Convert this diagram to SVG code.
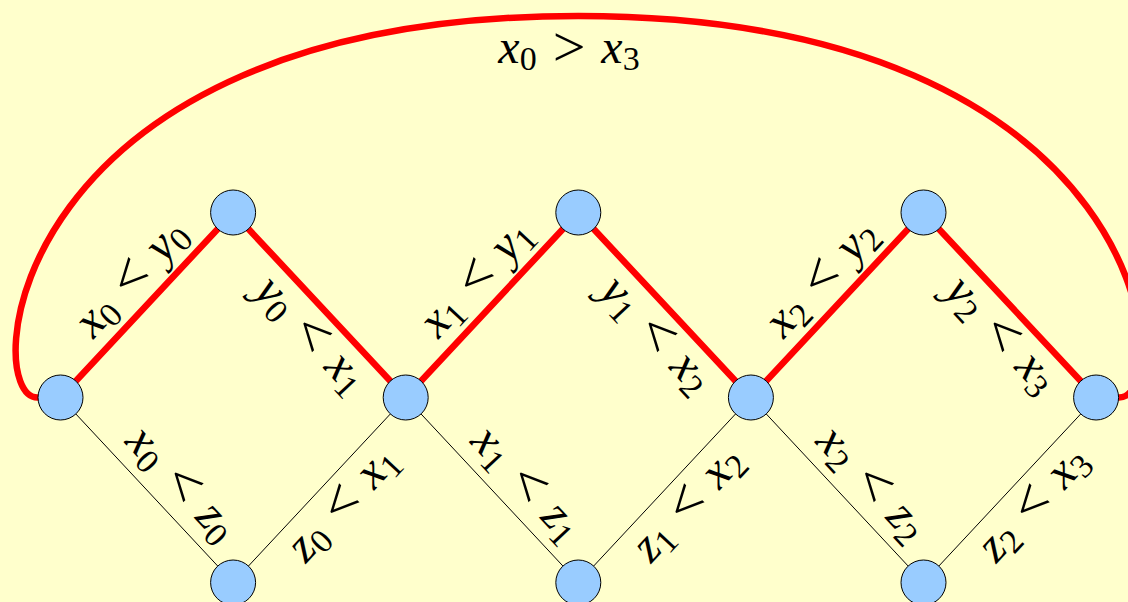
<svg xmlns="http://www.w3.org/2000/svg" width="1128" height="602" viewBox="0 0 1128 602">
<style>
.bg{fill:#ffffcc}
.nd{fill:#99ccff;stroke:#000;stroke-width:1}
.red{stroke:#ff0000;stroke-width:6.5;fill:none;stroke-linecap:round}
.thin{stroke:#000;stroke-width:1;fill:none}
#labels text, #labels tspan, text tspan.v, text tspan.s, text tspan.op{font-family:Liberation Serif,serif !important}
.lb{font-size:48px;text-anchor:middle;fill:#000}
.v{font-style:italic}
.s{font-size:34px}
.op{font-size:58px}
</style>
<rect class="bg" x="0" y="0" width="1128" height="602"/>
<g id="connectors">
  <line class="thin" x1="60.5" y1="397.5" x2="233.1" y2="582.5"/>
  <line class="thin" x1="233.1" y1="582.5" x2="405.7" y2="397.5"/>
  <line class="thin" x1="405.7" y1="397.5" x2="578.3" y2="582.5"/>
  <line class="thin" x1="578.3" y1="582.5" x2="750.9" y2="397.5"/>
  <line class="thin" x1="750.9" y1="397.5" x2="923.5" y2="582.5"/>
  <line class="thin" x1="923.5" y1="582.5" x2="1096.1" y2="397.5"/>
  <line class="red" x1="60.5" y1="397.5" x2="233.1" y2="212.5"/>
  <line class="red" x1="233.1" y1="212.5" x2="405.7" y2="397.5"/>
  <line class="red" x1="405.7" y1="397.5" x2="578.3" y2="212.5"/>
  <line class="red" x1="578.3" y1="212.5" x2="750.9" y2="397.5"/>
  <line class="red" x1="750.9" y1="397.5" x2="923.5" y2="212.5"/>
  <line class="red" x1="923.5" y1="212.5" x2="1096.1" y2="397.5"/>
  <path class="red" d="M 37.5 397.5 C -21.3 397.5 2 16 578.3 16 C 1154.6 16 1177.9 397.5 1119.1 397.5"/>
</g>
<g id="labels" font-family="Liberation Serif">
  <text class="lb" font-family="Liberation Serif" x="569" y="63"><tspan class="v" font-family="Liberation Serif">x</tspan><tspan class="s" font-family="Liberation Serif" dy="7">0</tspan><tspan class="op" font-family="Liberation Serif" dx="16" dy="-4.5">&gt;</tspan><tspan class="v" font-family="Liberation Serif" dx="16" dy="-2.5">x</tspan><tspan class="s" font-family="Liberation Serif" dy="7">3</tspan></text>

  <g transform="translate(146.8 305) rotate(-47)"><text class="lb" x="9" y="-15.5"><tspan class="v">x</tspan><tspan class="s" dy="7">0</tspan><tspan class="op" dx="16" dy="-4.5">&lt;</tspan><tspan class="v" dx="16" dy="-2.5">y</tspan><tspan class="s" dy="7">0</tspan></text></g>
  <g transform="translate(319.4 305) rotate(47)"><text class="lb" x="16" y="40.5"><tspan class="v">y</tspan><tspan class="s" dy="7">0</tspan><tspan class="op" dx="16" dy="-4.5">&lt;</tspan><tspan class="v" dx="16" dy="-2.5">x</tspan><tspan class="s" dy="7">1</tspan></text></g>
  <g transform="translate(146.8 490) rotate(47)"><text class="lb" x="19" y="-15.5"><tspan class="v">x</tspan><tspan class="s" dy="7">0</tspan><tspan class="op" dx="16" dy="-4.5">&lt;</tspan><tspan class="v" dx="16" dy="-2.5">z</tspan><tspan class="s" dy="7">0</tspan></text></g>
  <g transform="translate(319.4 490) rotate(-47)"><text class="lb" x="6" y="40.5"><tspan class="v">z</tspan><tspan class="s" dy="7">0</tspan><tspan class="op" dx="16" dy="-4.5">&lt;</tspan><tspan class="v" dx="16" dy="-2.5">x</tspan><tspan class="s" dy="7">1</tspan></text></g>

  <g transform="translate(492 305) rotate(-47)"><text class="lb" x="9" y="-15.5"><tspan class="v">x</tspan><tspan class="s" dy="7">1</tspan><tspan class="op" dx="16" dy="-4.5">&lt;</tspan><tspan class="v" dx="16" dy="-2.5">y</tspan><tspan class="s" dy="7">1</tspan></text></g>
  <g transform="translate(664.6 305) rotate(47)"><text class="lb" x="16" y="40.5"><tspan class="v">y</tspan><tspan class="s" dy="7">1</tspan><tspan class="op" dx="16" dy="-4.5">&lt;</tspan><tspan class="v" dx="16" dy="-2.5">x</tspan><tspan class="s" dy="7">2</tspan></text></g>
  <g transform="translate(492 490) rotate(47)"><text class="lb" x="19" y="-15.5"><tspan class="v">x</tspan><tspan class="s" dy="7">1</tspan><tspan class="op" dx="16" dy="-4.5">&lt;</tspan><tspan class="v" dx="16" dy="-2.5">z</tspan><tspan class="s" dy="7">1</tspan></text></g>
  <g transform="translate(664.6 490) rotate(-47)"><text class="lb" x="6" y="40.5"><tspan class="v">z</tspan><tspan class="s" dy="7">1</tspan><tspan class="op" dx="16" dy="-4.5">&lt;</tspan><tspan class="v" dx="16" dy="-2.5">x</tspan><tspan class="s" dy="7">2</tspan></text></g>

  <g transform="translate(837.2 305) rotate(-47)"><text class="lb" x="9" y="-15.5"><tspan class="v">x</tspan><tspan class="s" dy="7">2</tspan><tspan class="op" dx="16" dy="-4.5">&lt;</tspan><tspan class="v" dx="16" dy="-2.5">y</tspan><tspan class="s" dy="7">2</tspan></text></g>
  <g transform="translate(1009.8 305) rotate(47)"><text class="lb" x="16" y="40.5"><tspan class="v">y</tspan><tspan class="s" dy="7">2</tspan><tspan class="op" dx="16" dy="-4.5">&lt;</tspan><tspan class="v" dx="16" dy="-2.5">x</tspan><tspan class="s" dy="7">3</tspan></text></g>
  <g transform="translate(837.2 490) rotate(47)"><text class="lb" x="19" y="-15.5"><tspan class="v">x</tspan><tspan class="s" dy="7">2</tspan><tspan class="op" dx="16" dy="-4.5">&lt;</tspan><tspan class="v" dx="16" dy="-2.5">z</tspan><tspan class="s" dy="7">2</tspan></text></g>
  <g transform="translate(1009.8 490) rotate(-47)"><text class="lb" x="6" y="40.5"><tspan class="v">z</tspan><tspan class="s" dy="7">2</tspan><tspan class="op" dx="16" dy="-4.5">&lt;</tspan><tspan class="v" dx="16" dy="-2.5">x</tspan><tspan class="s" dy="7">3</tspan></text></g>
</g>
<g id="m0"><circle class="nd" cx="60.5" cy="397.5" r="22.5"/></g>
<g id="t0"><circle class="nd" cx="233.1" cy="212.5" r="22.5"/></g>
<g id="b0"><circle class="nd" cx="233.1" cy="582.5" r="22.5"/></g>
<g id="m1"><circle class="nd" cx="405.7" cy="397.5" r="22.5"/></g>
<g id="t1"><circle class="nd" cx="578.3" cy="212.5" r="22.5"/></g>
<g id="b1"><circle class="nd" cx="578.3" cy="582.5" r="22.5"/></g>
<g id="m2"><circle class="nd" cx="750.9" cy="397.5" r="22.5"/></g>
<g id="t2"><circle class="nd" cx="923.5" cy="212.5" r="22.5"/></g>
<g id="b2"><circle class="nd" cx="923.5" cy="582.5" r="22.5"/></g>
<g id="m3"><circle class="nd" cx="1096.1" cy="397.5" r="22.5"/></g>
</svg>
